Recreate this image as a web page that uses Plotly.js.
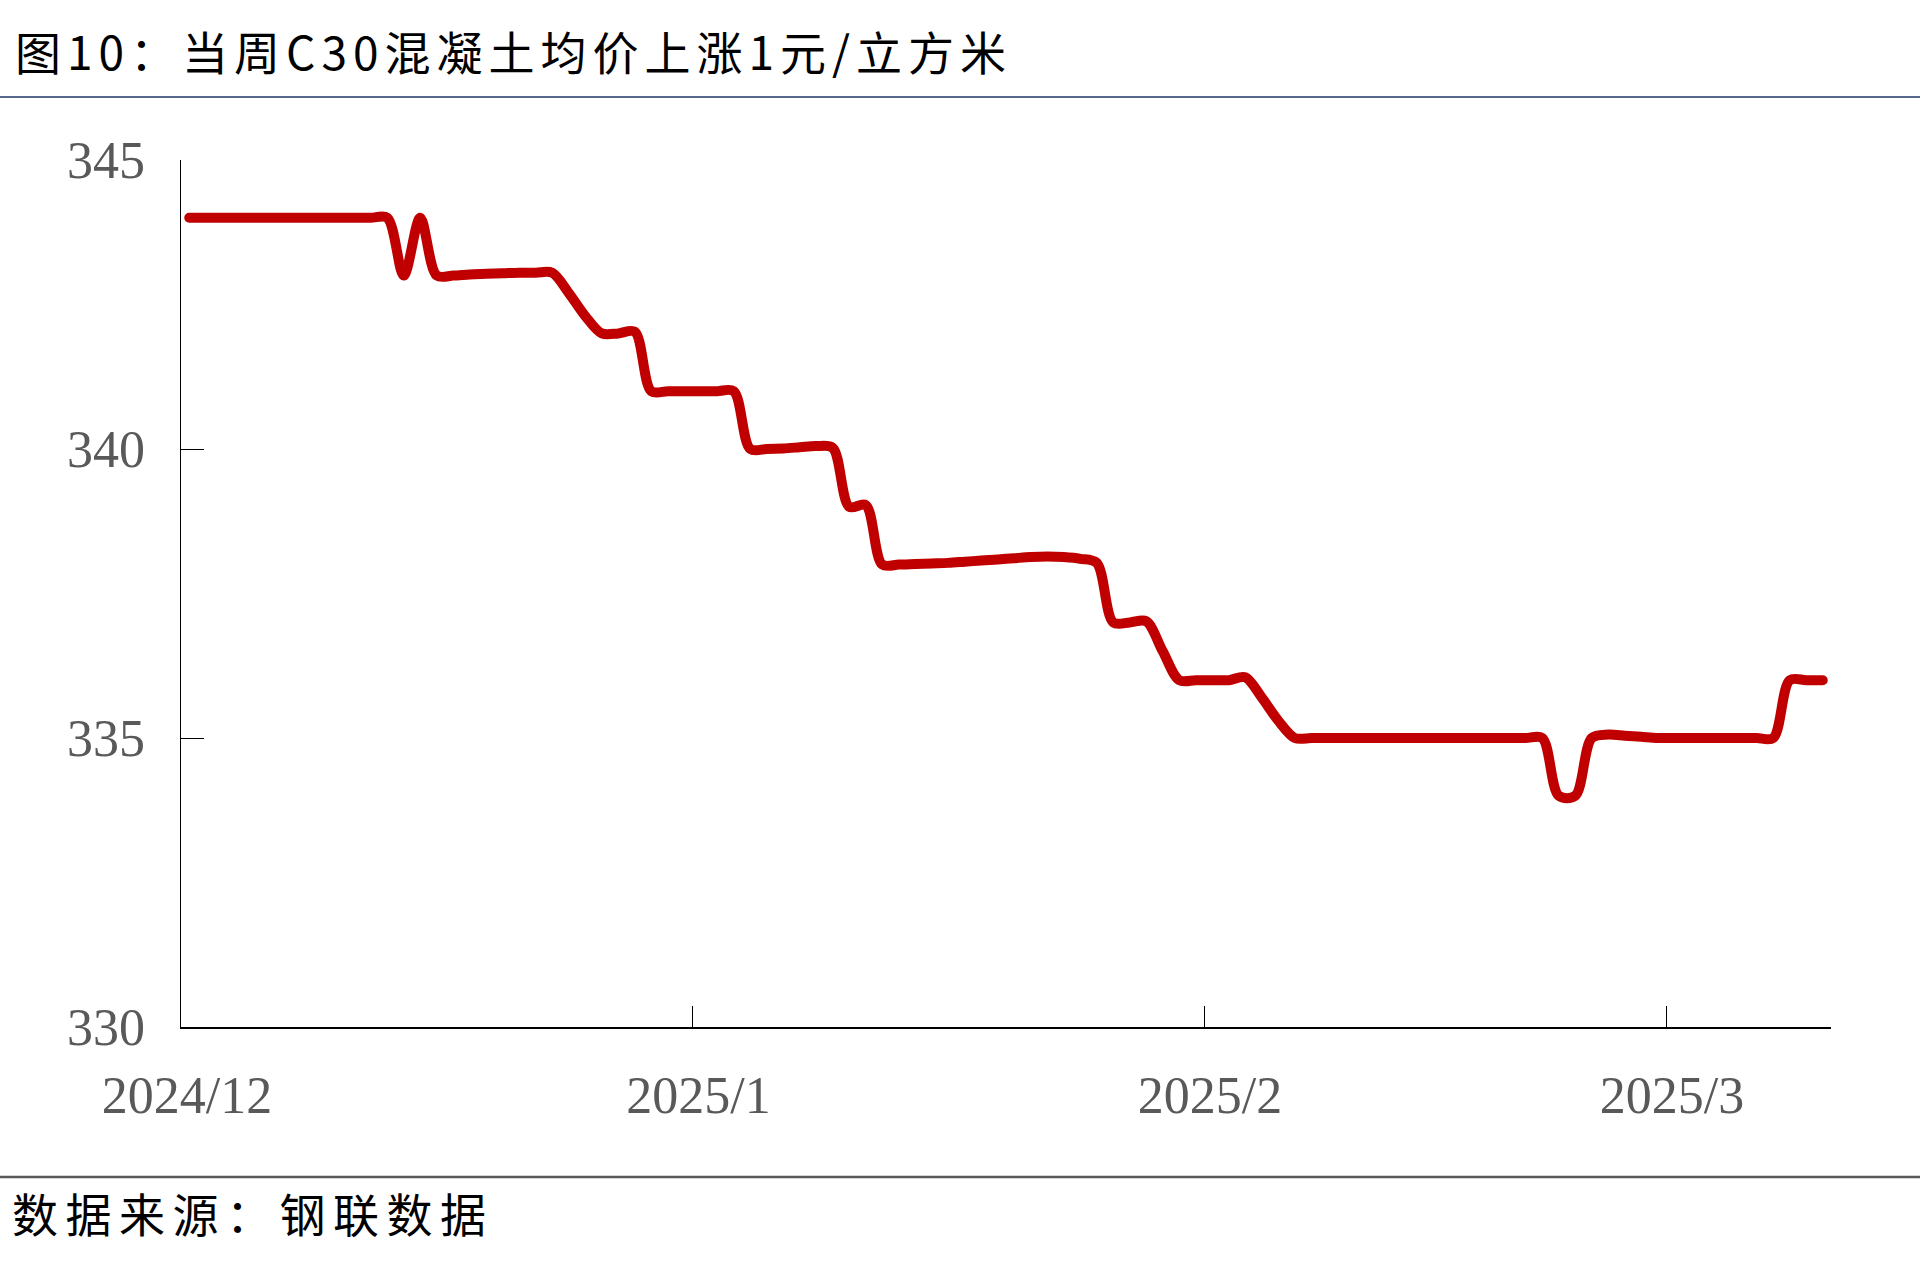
<!DOCTYPE html>
<html>
<head>
<meta charset="utf-8">
<script src="https://cdn.plot.ly/plotly-3.0.1.min.js"></script>
<style>
  html, body { margin: 0; padding: 0; background: #fff; }
  #chart { width: 1920px; height: 1276px; }
  .scatterlayer path.js-line { stroke-linecap: round; stroke-linejoin: round; }
  .gtitle { letter-spacing: 6px; }
  .annotation-text { letter-spacing: 7.5px; }
</style>
</head>
<body>
<div id="chart"></div>
<script>
// ---- data ----
const startDate = '2024-12-01';   // first daily observation
const priceC30 = [
  344, 344, 344, 344, 344, 344, 344, 344, 344, 344, 344, 344, 344,
  343, 344,
  343, 343, 343.02, 343.03, 343.04, 343.05, 343.05, 343.05,
  342.7, 342.3,
  342, 342, 342.03,
  341, 341, 341, 341, 341, 341,
  340, 340, 340.01, 340.03, 340.05, 340.02,
  339, 339.03,
  338, 338, 338.01, 338.02, 338.03, 338.05, 338.07, 338.09, 338.11, 338.13, 338.14, 338.13, 338.1, 338.03,
  337, 337, 337.02,
  336.5,
  336, 336, 336, 336, 336.05,
  335.7, 335.3,
  335, 335, 335, 335, 335, 335, 335, 335, 335, 335, 335, 335, 335, 335, 335, 335,
  334, 334,
  335, 335.06, 335.04, 335.02,
  335, 335, 335, 335, 335, 335, 335, 335,
  336, 336, 336
];
const xTickVals = ['2024-12-01', '2025-01-01', '2025-02-01', '2025-03-01'];
const xTickText = ['2024/12', '2025/1', '2025/2', '2025/3'];
const yTickVals = [330, 335, 340, 345];
const xRange = ['2024-12-01', '2025-03-11'];
const yRange = [330, 345];
const titleText = '图10：当周C30混凝土均价上涨1元/立方米';
const sourceText = '数据来源：钢联数据';

// daily dates (each observation centred in its day slot)
const dates = [];
(function () {
  const d0 = new Date(startDate + 'T00:00:00Z');
  for (let i = 0; i < priceC30.length; i++) {
    const d = new Date(d0.getTime() + i * 86400000);
    dates.push(d.toISOString().slice(0, 10) + ' 12:00');
  }
})();

const trace = {
  x: dates,
  y: priceC30,
  type: 'scatter',
  mode: 'lines',
  line: { color: '#C00000', width: 10, shape: 'spline', smoothing: 0.9 },
  hoverinfo: 'x+y'
};

const W = 1920, H = 1276;
const L = 181, R = 89, T = 160, B = 249;
const plotH = H - T - B;
const plotW = W - L - R;

const layout = {
  width: W, height: H,
  margin: { l: L, r: R, t: T, b: B, pad: 0 },
  paper_bgcolor: '#ffffff',
  plot_bgcolor: '#ffffff',
  showlegend: false,
  title: {
    text: titleText,
    xref: 'container', yref: 'container',
    x: 15 / W, xanchor: 'left',
    y: 1 - 54 / H, yanchor: 'middle',
    font: { family: '"Noto Sans CJK SC", "Noto Sans", sans-serif', size: 46, color: '#000000' }
  },
  xaxis: {
    type: 'date',
    range: xRange,
    tickmode: 'array',
    tickvals: xTickVals,
    ticktext: xTickText,
    ticks: 'inside',
    ticklen: 21,
    tickwidth: 1,
    tickcolor: '#000000',
    showline: true,
    linecolor: '#000000',
    linewidth: 1.5,
    showgrid: false,
    zeroline: false,
    ticklabelshift: 6,
    ticklabelstandoff: 22,
    tickfont: { family: '"Liberation Serif", "Times New Roman", serif', size: 52, color: '#595959' },
    fixedrange: true
  },
  yaxis: {
    range: yRange,
    tickmode: 'array',
    tickvals: yTickVals,
    ticks: 'inside',
    ticklen: 23,
    tickwidth: 1,
    tickcolor: '#000000',
    showline: true,
    linecolor: '#000000',
    linewidth: 1.5,
    showgrid: false,
    zeroline: false,
    ticklabelstandoff: 24,
    tickfont: { family: '"Liberation Serif", "Times New Roman", serif', size: 52, color: '#595959' },
    fixedrange: true
  },
  shapes: [
    { type: 'line', xref: 'paper', yref: 'paper',
      x0: -L / plotW, x1: (W - L) / plotW,
      y0: (H - B - 97) / plotH, y1: (H - B - 97) / plotH,
      line: { color: '#1F3864', width: 1.5 } },
    { type: 'line', xref: 'paper', yref: 'paper',
      x0: -L / plotW, x1: (W - L) / plotW,
      y0: (H - B - 1177) / plotH, y1: (H - B - 1177) / plotH,
      line: { color: '#595959', width: 2.5 } }
  ],
  annotations: [
    { text: sourceText, showarrow: false,
      xref: 'paper', yref: 'paper',
      x: (10 - L) / plotW, xanchor: 'left',
      y: (H - B - 1212) / plotH, yanchor: 'middle',
      font: { family: '"Noto Sans CJK SC", "Noto Sans", sans-serif', size: 46, color: '#000000' } }
  ]
};

Plotly.newPlot('chart', [trace], layout, { displayModeBar: false, staticPlot: true });
</script>
</body>
</html>
